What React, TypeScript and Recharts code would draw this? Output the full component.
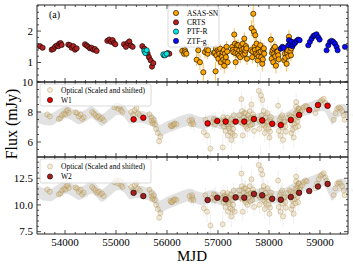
import React from 'react'
import { ComposedChart, Scatter, Area, XAxis, YAxis, ErrorBar } from 'recharts'

// optical light curves: [MJD, flux (mJy), error]
const crts: number[][] = [
  [53509, 1.52, 0.08], [53561, 1.47, 0.08],
  [53738, 1.41, 0.08], [53770, 1.43, 0.07], [53803, 1.5, 0.08], [53836, 1.54, 0.07], [53868, 1.52, 0.08], [53888, 1.6, 0.08], [53914, 1.62, 0.08], [53934, 1.56, 0.07],
  [54064, 1.57, 0.08], [54097, 1.55, 0.07], [54130, 1.47, 0.08], [54163, 1.52, 0.08], [54195, 1.41, 0.07], [54228, 1.45, 0.08],
  [54391, 1.58, 0.08], [54424, 1.54, 0.07], [54457, 1.5, 0.08], [54489, 1.45, 0.08], [54522, 1.47, 0.07], [54555, 1.41, 0.08], [54587, 1.43, 0.07], [54620, 1.37, 0.08],
  [54829, 1.69, 0.08], [54868, 1.73, 0.09], [54901, 1.66, 0.08], [54934, 1.71, 0.08], [54960, 1.62, 0.08], [54986, 1.58, 0.07],
  [55156, 1.58, 0.08], [55195, 1.5, 0.08], [55228, 1.62, 0.08], [55261, 1.67, 0.09], [55293, 1.54, 0.08], [55326, 1.5, 0.07],
  [55516, 1.52, 0.08], [55555, 1.44, 0.08], [55588, 1.33, 0.08], [55620, 1.28, 0.07], [55646, 1.17, 0.08], [55679, 1.07, 0.08], [55705, 0.87, 0.08], [55731, 0.98, 0.08],
  [55941, 1.23, 0.07], [55980, 1.26, 0.08], [56013, 1.3, 0.07], [56045, 1.28, 0.08],
]

const ptfR: number[][] = [
  [55555, 1.37, 0.04], [55575, 1.3, 0.04], [55601, 1.39, 0.04],
  [55928, 1.26, 0.04], [55960, 1.23, 0.04], [55993, 1.28, 0.04],
]

const asasSN: number[][] = [
  [56300, 1.37, 0.12], [56333, 1.28, 0.12], [56352, 1.39, 0.15], [56359, 1.33, 0.12], [56380, 1.28, 0.14],
  [56581, 1.09, 0.2], [56613, 1.39, 0.18], [56646, 1.01, 0.25], [56712, 0.69, 0.3], [56744, 1.33, 0.2], [56777, 1.41, 0.15], [56797, 1.28, 0.18], [56810, 1.39, 0.2],
  [56920, 1.3, 0.15], [56940, 1.33, 0.15], [56953, 0.72, 0.3], [56960, 1.45, 0.18], [56973, 1.23, 0.2], [56993, 1.39, 0.15], [57006, 1.12, 0.22], [57015, 1.35, 0.15],
  [57025, 1.28, 0.18], [57045, 1.44, 0.15], [57058, 1.01, 0.25], [57071, 1.23, 0.2], [57080, 1.18, 0.2], [57091, 1.33, 0.15], [57104, 1.09, 0.2], [57115, 1.4, 0.15],
  [57123, 0.9, 0.25], [57137, 1.28, 0.15], [57145, 1.05, 0.22], [57156, 1.17, 0.2], [57169, 1.5, 0.18], [57180, 1.35, 0.15], [57189, 1.01, 0.22],
  [57280, 1.5, 0.15], [57290, 1.4, 0.15], [57300, 1.33, 0.15], [57319, 1.89, 0.2], [57333, 1.6, 0.18], [57340, 1.3, 0.15], [57346, 1.01, 0.22], [57365, 1.44, 0.15],
  [57375, 1.55, 0.18], [57385, 1.28, 0.15], [57398, 1.55, 0.18], [57410, 1.22, 0.18], [57418, 1.39, 0.15], [57437, 1.17, 0.2], [57450, 1.5, 0.15], [57463, 1.33, 0.15],
  [57470, 1.42, 0.15], [57483, 1.6, 0.18], [57495, 1.25, 0.18], [57503, 1.44, 0.15], [57516, 1.76, 0.2], [57529, 1.28, 0.15], [57540, 1.38, 0.15], [57548, 1.52, 0.18],
  [57560, 1.45, 0.18], [57568, 1.12, 0.2],
  [57646, 1.39, 0.15], [57659, 2.09, 0.25], [57672, 1.17, 0.2], [57680, 1.35, 0.15], [57692, 2.55, 0.3], [57705, 1.98, 0.25], [57718, 1.5, 0.18], [57725, 1.4, 0.15],
  [57731, 1.87, 0.22], [57744, 1.28, 0.15], [57757, 1.6, 0.18], [57770, 1.25, 0.18], [57777, 1.07, 0.22], [57790, 1.44, 0.15], [57800, 1.2, 0.18], [57810, 1.33, 0.15],
  [57829, 1.55, 0.18], [57840, 1.35, 0.15], [57849, 1.17, 0.2], [57869, 0.96, 0.25], [57880, 1.1, 0.2], [57888, 1.39, 0.15], [57900, 1.45, 0.18], [57908, 1.28, 0.15],
  [58039, 1.73, 0.22], [58052, 1.12, 0.2], [58060, 1.3, 0.15], [58071, 1.39, 0.15], [58084, 1.01, 0.22], [58095, 1.45, 0.18], [58104, 1.28, 0.15], [58117, 1.5, 0.18],
  [58125, 1.2, 0.18], [58137, 0.9, 0.25], [58156, 1.33, 0.15], [58170, 1.35, 0.15], [58182, 1.23, 0.18], [58190, 1.1, 0.2],
  [58300, 1.07, 0.2], [58313, 1.28, 0.15], [58320, 1.15, 0.2], [58333, 1.44, 0.15], [58346, 0.96, 0.25], [58355, 1.3, 0.15], [58365, 1.39, 0.15], [58380, 1.2, 0.18],
  [58392, 1.82, 0.22], [58411, 1.55, 0.15], [58420, 1.35, 0.15], [58431, 1.23, 0.2], [58440, 1.45, 0.18], [58444, 1.66, 0.18],
]

const ztfG: number[][] = [
  [58230, 1.44, 0.03], [58262, 1.5, 0.03], [58290, 1.47, 0.03],
  [58380, 1.55, 0.03], [58392, 1.71, 0.03], [58418, 1.6, 0.03], [58444, 1.66, 0.03], [58460, 1.52, 0.03], [58477, 1.58, 0.03], [58509, 1.62, 0.03],
  [58542, 1.69, 0.03], [58574, 1.73, 0.03], [58601, 1.71, 0.03],
  [58771, 1.55, 0.03], [58803, 1.66, 0.03], [58836, 1.76, 0.03], [58869, 1.84, 0.03], [58901, 1.87, 0.03], [58934, 1.9, 0.03], [58967, 1.8, 0.03], [58993, 1.73, 0.03],
  [59130, 1.39, 0.03], [59163, 1.55, 0.03], [59196, 1.66, 0.03], [59228, 1.69, 0.03], [59261, 1.66, 0.03], [59294, 1.6, 0.03], [59326, 1.5, 0.03], [59346, 1.39, 0.03],
  [59490, 1.5, 0.03],
]

// WISE epochs and fluxes (mJy)
const wiseMjd = [55345, 55535, 56797, 56986, 57150, 57346, 57515, 57705, 57868, 58064, 58232, 58428, 58591, 58790, 58961, 59150]
const w1Flux = [7.51, 7.62, 7.24, 7.4, 7.36, 7.36, 7.36, 7.53, 7.44, 7.22, 7.13, 7.47, 7.8, 8.13, 8.47, 8.42]
const w2Flux = [11.14, 10.83, 10.46, 10.68, 10.53, 10.71, 10.68, 11.02, 10.9, 10.58, 10.49, 10.74, 11.14, 11.3, 11.73, 11.97]

// grey model band, centre as read in the W1 panel
const bandMjd = [53450, 53580, 53720, 53880, 54030, 54150, 54270, 54400, 54520, 54620, 54720, 54880, 55045, 55160, 55280, 55420, 55600, 55760, 55860, 55980, 56120, 56280, 56450, 56550, 56700, 56850, 57000, 57150, 57300, 57460, 57620, 57780, 57950, 58100, 58250, 58400, 58540, 58700, 58840, 58960, 59080, 59180, 59240, 59330, 59430, 59550]
const bandMid = [7.72, 7.55, 7.5, 7.8, 7.98, 7.8, 7.58, 7.75, 8.0, 7.75, 7.47, 7.85, 8.22, 8.05, 7.62, 7.7, 7.58, 7.35, 6.75, 6.95, 7.13, 7.35, 7.5, 7.38, 7.25, 7.4, 7.3, 7.2, 7.5, 7.6, 7.35, 7.5, 7.6, 7.35, 7.45, 7.7, 7.95, 8.15, 8.3, 8.45, 8.45, 7.9, 7.55, 7.95, 8.15, 8.0]
const BAND_HALF = 0.4

// optical -> IR scaling and lag
const OPT_LAG = 140
const W1_SCALE = 2.75
const W1_SHIFT = 3.66
const W2_SCALE = 4.05
const W2_SHIFT = 5.28

const xTicks = [53600, 53800, 54000, 54200, 54400, 54600, 54800, 55000, 55200, 55400, 55600, 55800, 56000, 56200, 56400, 56600, 56800, 57000, 57200, 57400, 57600, 57800, 58000, 58200, 58400, 58600, 58800, 59000, 59200, 59400]
const xMajor = [54000, 55000, 56000, 57000, 58000, 59000]
const yTicksA = [0.4, 0.6, 0.8, 1, 1.2, 1.4, 1.6, 1.8, 2, 2.2, 2.4, 2.6, 2.8]
const yMajorA = [1, 2]
const yTicksB = [5.5, 6, 6.5, 7, 7.5, 8, 8.5, 9, 9.5, 10]
const yMajorB = [6, 8, 10]
const yTicksC = [7.5, 8, 8.5, 9, 9.5, 10, 10.5, 11, 11.5, 12, 12.5, 13, 13.5, 14]
const yMajorC = [7.5, 10, 12.5]

const FONT = '"Liberation Serif", "Times New Roman", serif'
const AX = '#222'
const X_DOMAIN = [53450, 59550]

const pts = (rows: number[][]) => rows.map(([t, f, e]) => ({ mjd: t, y: f, err: e }))
const optical = [...crts, ...ptfR, ...asasSN, ...ztfG]
const toW1 = (f: number) => f * W1_SCALE + W1_SHIFT
const toW2 = (f: number) => f * W2_SCALE + W2_SHIFT
const w1ToW2 = (v: number) => toW2((v - W1_SHIFT) / W1_SCALE)

const optW1 = optical.map(([t, f, e]) => ({ mjd: t + OPT_LAG, y: toW1(f), err: e * W1_SCALE }))
const optW2 = optical.map(([t, f, e]) => ({ mjd: t + OPT_LAG, y: toW2(f), err: e * W2_SCALE }))
const bandW1 = bandMjd.map((t, i) => ({ mjd: t, band: [bandMid[i] - BAND_HALF, bandMid[i] + BAND_HALF] }))
const bandW2 = bandMjd.map((t, i) => ({
  mjd: t,
  band: [w1ToW2(bandMid[i] - BAND_HALF), w1ToW2(bandMid[i] + BAND_HALF)],
}))
const w1Pts = wiseMjd.map((t, i) => ({ mjd: t, y: w1Flux[i] }))
const w2Pts = wiseMjd.map((t, i) => ({ mjd: t, y: w2Flux[i] }))

// matplotlib-style inward ticks
function makeTick(side: string, majors: number[], labels: boolean, fmt = (v: number) => String(v)) {
  return (props: any) => {
    const { x, y, payload } = props
    const v = payload.value
    const major = majors.some((m) => Math.abs(m - v) < 1e-6)
    const len = major ? 4 : 2
    let line
    if (side === 'bottom') line = <line x1={x} y1={y} x2={x} y2={y - len} stroke={AX} strokeWidth={0.8} />
    else if (side === 'top') line = <line x1={x} y1={y} x2={x} y2={y + len} stroke={AX} strokeWidth={0.8} />
    else if (side === 'left') line = <line x1={x} y1={y} x2={x + len} y2={y} stroke={AX} strokeWidth={0.8} />
    else line = <line x1={x} y1={y} x2={x - len} y2={y} stroke={AX} strokeWidth={0.8} />
    let label = null
    if (labels && major) {
      label =
        side === 'bottom' ? (
          <text x={x} y={y + 12} textAnchor="middle" fontSize={11} fontFamily={FONT} fill="#000">
            {fmt(v)}
          </text>
        ) : (
          <text x={x - 4} y={y + 3.8} textAnchor="end" fontSize={11} fontFamily={FONT} fill="#000">
            {fmt(v)}
          </text>
        )
    }
    return (
      <g>
        {line}
        {label}
      </g>
    )
  }
}

function axes(yDomain: number[], yTicks: number[], yMajor: number[], showX: boolean, yFmt?: (v: number) => string) {
  const common = { allowDataOverflow: true, interval: 0 as const, tickSize: 0, tickMargin: 0, tickLine: false, axisLine: { stroke: AX, strokeWidth: 1 } }
  return [
    <XAxis key="xb" xAxisId={0} dataKey="mjd" type="number" domain={X_DOMAIN} ticks={xTicks} height={1} tick={makeTick('bottom', xMajor, showX)} {...common} />,
    <XAxis key="xt" xAxisId="t" orientation="top" dataKey="mjd" type="number" domain={X_DOMAIN} ticks={xTicks} height={1} tick={makeTick('top', xMajor, false)} {...common} />,
    <YAxis key="yl" yAxisId={0} dataKey="y" type="number" domain={yDomain} ticks={yTicks} width={1} tick={makeTick('left', yMajor, true, yFmt)} {...common} />,
    <YAxis key="yr" yAxisId="r" orientation="right" dataKey="y" type="number" domain={yDomain} ticks={yTicks} width={1} tick={makeTick('right', yMajor, false)} {...common} />,
  ]
}

const dot = (fill: string, r = 2.6) => (p: any) => (
  <circle cx={p.cx} cy={p.cy} r={r} fill={fill} stroke="#000" strokeWidth={0.6} />
)
const optDot = (p: any) => (
  <circle cx={p.cx} cy={p.cy} r={2.5} fill="#d8c090" fillOpacity={0.3} stroke="#a8843a" strokeOpacity={0.5} strokeWidth={0.7} />
)

function LegendBox({ x, y, w, h, rows }: { x: number; y: number; w: number; h: number; rows: { label: string; tx: number; ry: number; marker: React.ReactNode }[] }) {
  return (
    <g>
      <rect x={x} y={y} width={w} height={h} rx={2} fill="#fff" fillOpacity={0.8} stroke="#cfcfcf" strokeWidth={0.8} />
      {rows.map((r) => (
        <g key={r.label}>
          {r.marker}
          <text x={r.tx} y={r.ry + 2.6} fontSize={7.5} fontFamily={FONT} fill="#000">
            {r.label}
          </text>
        </g>
      ))}
    </g>
  )
}

const mk = (cx: number, cy: number, fill: string) => <circle cx={cx} cy={cy} r={2.6} fill={fill} stroke="#000" strokeWidth={0.6} />
const mkOpt = (cx: number, cy: number) => (
  <circle cx={cx} cy={cy} r={2.5} fill="#d8c090" fillOpacity={0.3} stroke="#a8843a" strokeOpacity={0.5} strokeWidth={0.7} />
)

export default function App() {
  return (
    <div style={{ position: 'absolute', left: 0, top: 0, width: 353, height: 270, background: '#fff' }}>
      <div style={{ position: 'absolute', left: 0, top: 0 }}>
        <ComposedChart width={353} height={92} margin={{ top: 4, right: 4, bottom: 9, left: 36 }}>
          {axes([0.38, 2.83], yTicksA, yMajorA, false)}
          <Scatter data={pts(asasSN)} isAnimationActive={false} shape={dot('#ffa500')}>
            <ErrorBar dataKey="err" direction="y" width={0} stroke="#ffa500" strokeOpacity={0.7} strokeWidth={1} />
          </Scatter>
          <Scatter data={pts(crts)} isAnimationActive={false} shape={dot('#b22222')}>
            <ErrorBar dataKey="err" direction="y" width={0} stroke="#f08080" strokeWidth={1} />
          </Scatter>
          <Scatter data={pts(ptfR)} isAnimationActive={false} shape={dot('#00e5e5')}>
            <ErrorBar dataKey="err" direction="y" width={0} stroke="#00cccc" strokeWidth={1} />
          </Scatter>
          <Scatter data={pts(ztfG)} isAnimationActive={false} shape={dot('#0a0aff')}>
            <ErrorBar dataKey="err" direction="y" width={0} stroke="#4040ff" strokeWidth={1} />
          </Scatter>
        </ComposedChart>
      </div>
      <div style={{ position: 'absolute', left: 0, top: 72 }}>
        <ComposedChart width={353} height={95} data={bandW1} margin={{ top: 9, right: 4, bottom: 9, left: 36 }}>
          {axes([5, 10], yTicksB, yMajorB, false)}
          <Area dataKey="band" type="monotone" stroke="none" fill="#cfcfcf" fillOpacity={0.6} isAnimationActive={false} />
          <Scatter data={optW1} isAnimationActive={false} shape={optDot}>
            <ErrorBar dataKey="err" direction="y" width={0} stroke="#bbbbbb" strokeOpacity={0.3} strokeWidth={0.8} />
          </Scatter>
          <Scatter data={w1Pts} isAnimationActive={false} shape={dot('#ee0000', 2.8)} />
        </ComposedChart>
      </div>
      <div style={{ position: 'absolute', left: 0, top: 147 }}>
        <ComposedChart width={353} height={123} data={bandW2} margin={{ top: 9, right: 4, bottom: 35, left: 36 }}>
          {axes([7.28, 14.49], yTicksC, yMajorC, true, (v) => v.toFixed(1))}
          <Area dataKey="band" type="monotone" stroke="none" fill="#cfcfcf" fillOpacity={0.6} isAnimationActive={false} />
          <Scatter data={optW2} isAnimationActive={false} shape={optDot}>
            <ErrorBar dataKey="err" direction="y" width={0} stroke="#bbbbbb" strokeOpacity={0.3} strokeWidth={0.8} />
          </Scatter>
          <Scatter data={w2Pts} isAnimationActive={false} shape={dot('#a31f1f', 2.8)} />
        </ComposedChart>
      </div>
      <svg width={353} height={270} style={{ position: 'absolute', left: 0, top: 0, pointerEvents: 'none' }}>
        <text x={49} y={18} fontSize={10} fontFamily={FONT} fill="#000">
          (a)
        </text>
        <LegendBox
          x={168}
          y={6}
          w={51}
          h={41}
          rows={[
            { label: 'ASAS-SN', tx: 187, ry: 13, marker: mk(176, 13, '#ffa500') },
            { label: 'CRTS', tx: 187, ry: 22.3, marker: mk(176, 22.3, '#b22222') },
            { label: 'PTF-R', tx: 187, ry: 31.6, marker: mk(176, 31.6, '#00e5e5') },
            { label: 'ZTF-g', tx: 187, ry: 40.9, marker: mk(176, 40.9, '#0a0aff') },
          ]}
        />
        <LegendBox
          x={40}
          y={84}
          w={111}
          h={22}
          rows={[
            { label: 'Optical (Scaled and shifted)', tx: 61, ry: 90, marker: mkOpt(50, 90) },
            { label: 'W1', tx: 61, ry: 100, marker: mk(50, 100, '#ee0000') },
          ]}
        />
        <LegendBox
          x={40}
          y={159}
          w={111}
          h={24}
          rows={[
            { label: 'Optical (Scaled and shifted)', tx: 61, ry: 166.5, marker: mkOpt(50, 166.5) },
            { label: 'W2', tx: 61, ry: 176.5, marker: mk(50, 176.5, '#a31f1f') },
          ]}
        />
        <text transform="translate(17,124) rotate(-90)" textAnchor="middle" fontSize={16} fontFamily={FONT} fill="#000">
          Flux (mJy)
        </text>
        <text x={192} y={261} textAnchor="middle" fontSize={15} fontFamily={FONT} fill="#000">
          MJD
        </text>
      </svg>
    </div>
  )
}
